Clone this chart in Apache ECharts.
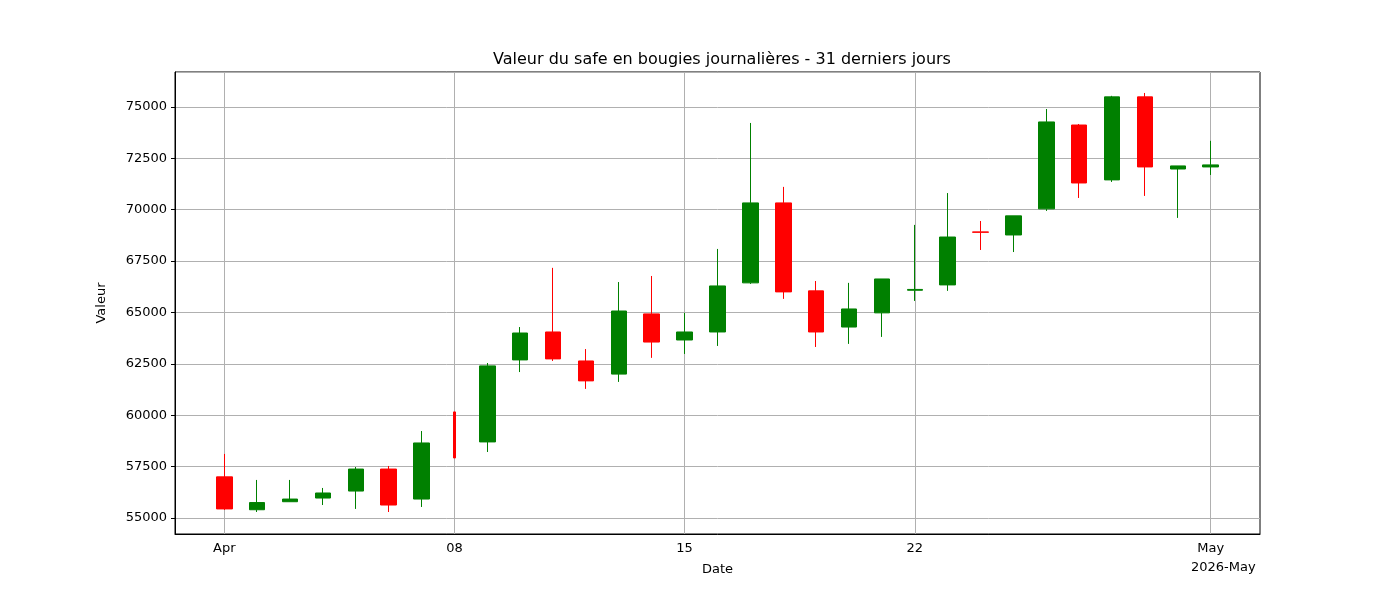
<!DOCTYPE html>
<html><head><meta charset="utf-8">
<script src="https://cdn.jsdelivr.net/npm/echarts@6/dist/echarts.min.js"></script>
<style>html,body{margin:0;background:#fff}#c{width:1400px;height:600px}</style>
</head><body><div id="c"></div>
<script>
// categories: Mar 31 .. May 2
const days = ['Mar 31'];
for (let d=1; d<=30; d++) days.push('Apr ' + d);
days.push('May 1','May 2');
const tickDays = ['Apr 1','Apr 8','Apr 15','Apr 22','May 1'];
const tickLabels = {'Apr 1':'Apr','Apr 8':'08','Apr 15':'15','Apr 22':'22','May 1':'May'};
// candle data: date, open, close, low, high
const candleDates = ['Apr 1','Apr 2','Apr 3','Apr 4','Apr 5','Apr 6','Apr 7','Apr 9','Apr 10','Apr 11','Apr 12','Apr 13','Apr 14','Apr 15','Apr 16','Apr 17','Apr 18','Apr 19','Apr 20','Apr 21','Apr 22','Apr 23','Apr 24','Apr 25','Apr 26','Apr 27','Apr 28','Apr 29','Apr 30','May 1'];
const opens  = [57000,55400,55790,55970,56310,57380,55920,58700,62690,64050,62640,62000,64930,63660,64050,66440,70330,66050,64290,64980,66080,66340,68920,68770,70040,74120,71450,75490,71980,72080];
const closes = [55440,55750,55920,56215,57380,55630,58650,62400,64000,62740,61670,65070,63560,64050,66290,70330,66000,64050,65170,66630,66120,68670,68900,69700,74270,71300,75490,72080,72130,72180];
const lows   = [55390,55290,55780,55630,55440,55290,55535,58210,62100,62640,61280,61620,62790,62980,63370,66390,65660,63320,63470,63810,65560,66050,68040,67940,69940,70570,71350,70670,69600,71690];
const highs  = [58115,56850,56850,56460,57480,57530,59230,62540,64290,67170,63220,66480,66775,64980,68090,74220,71110,66530,66440,66630,69260,70810,69450,69700,74900,74170,75540,75680,72130,73350];
// wick-only day (no visible body)
const wickDates = ['Apr 8'];
const wickOpens = [60160], wickCloses = [57920], wickLows = [57920], wickHighs = [60160];

function build(dates, o, c, l, h) {
  return days.map(d => { const i = dates.indexOf(d); return i < 0 ? '-' : [o[i], c[i], l[i], h[i]]; });
}
const isTick = (idx) => tickDays.includes(days[idx]);
const font = 'DejaVu Sans';
const chart = echarts.init(document.getElementById('c'));
chart.setOption({
  animation:false,
  title:{text:'Valeur du safe en bougies journalières - 31 derniers jours',left:717,top:47,textAlign:'center',
    textStyle:{fontFamily:font,fontSize:16,fontWeight:'normal',color:'#000'}},
  grid:{left:175,right:140,top:72,bottom:66,show:true,borderColor:'#000',borderWidth:1,backgroundColor:'transparent'},
  xAxis:{type:'category',data:days,boundaryGap:true,
    name:'Date',nameLocation:'middle',nameGap:29,nameTextStyle:{fontFamily:font,fontSize:13,color:'#000'},
    axisLine:{lineStyle:{color:'#000'}},
    axisTick:{alignWithLabel:true,interval:(i)=>isTick(i),length:4,lineStyle:{color:'#000'}},
    axisLabel:{interval:(i)=>isTick(i),formatter:(v)=>tickLabels[v]||'',fontFamily:font,fontSize:13,color:'#000',margin:8},
    splitLine:{show:false}},
  yAxis:{type:'value',min:54220,max:76700,minInterval:2500,maxInterval:2500,
    name:'Valeur',nameLocation:'middle',nameGap:67,nameTextStyle:{fontFamily:font,fontSize:13,color:'#000'},
    axisLine:{show:true,lineStyle:{color:'#000'}},
    axisTick:{show:true,length:4,lineStyle:{color:'#000'}},
    axisLabel:{showMinLabel:false,showMaxLabel:false,formatter:(v)=>String(v),fontFamily:font,fontSize:13,color:'#000'},
    splitLine:{show:true,lineStyle:{color:'#b0b0b0',width:1}}},
  series:[
    {type:'candlestick',data:build(candleDates,opens,closes,lows,highs),barWidth:16,z:3,
      itemStyle:{color:'#008000',color0:'#ff0000',borderColor:'#008000',borderColor0:'#ff0000',borderWidth:1},
      markLine:{silent:true,symbol:'none',label:{show:false},z:1,
        lineStyle:{color:'#b0b0b0',width:1,type:'solid'},
        data:tickDays.map(d=>({xAxis:d}))}},
    {type:'candlestick',data:build(wickDates,wickOpens,wickCloses,wickLows,wickHighs),barWidth:2,z:3,
      itemStyle:{color:'#ff0000',color0:'#ff0000',borderColor:'#ff0000',borderColor0:'#ff0000',borderWidth:1}}
  ],
  graphic:[{type:'text',left:1191,top:561,style:{text:'2026-May',font:'13px "DejaVu Sans"',fill:'#000'}}]
});
</script></body></html>
